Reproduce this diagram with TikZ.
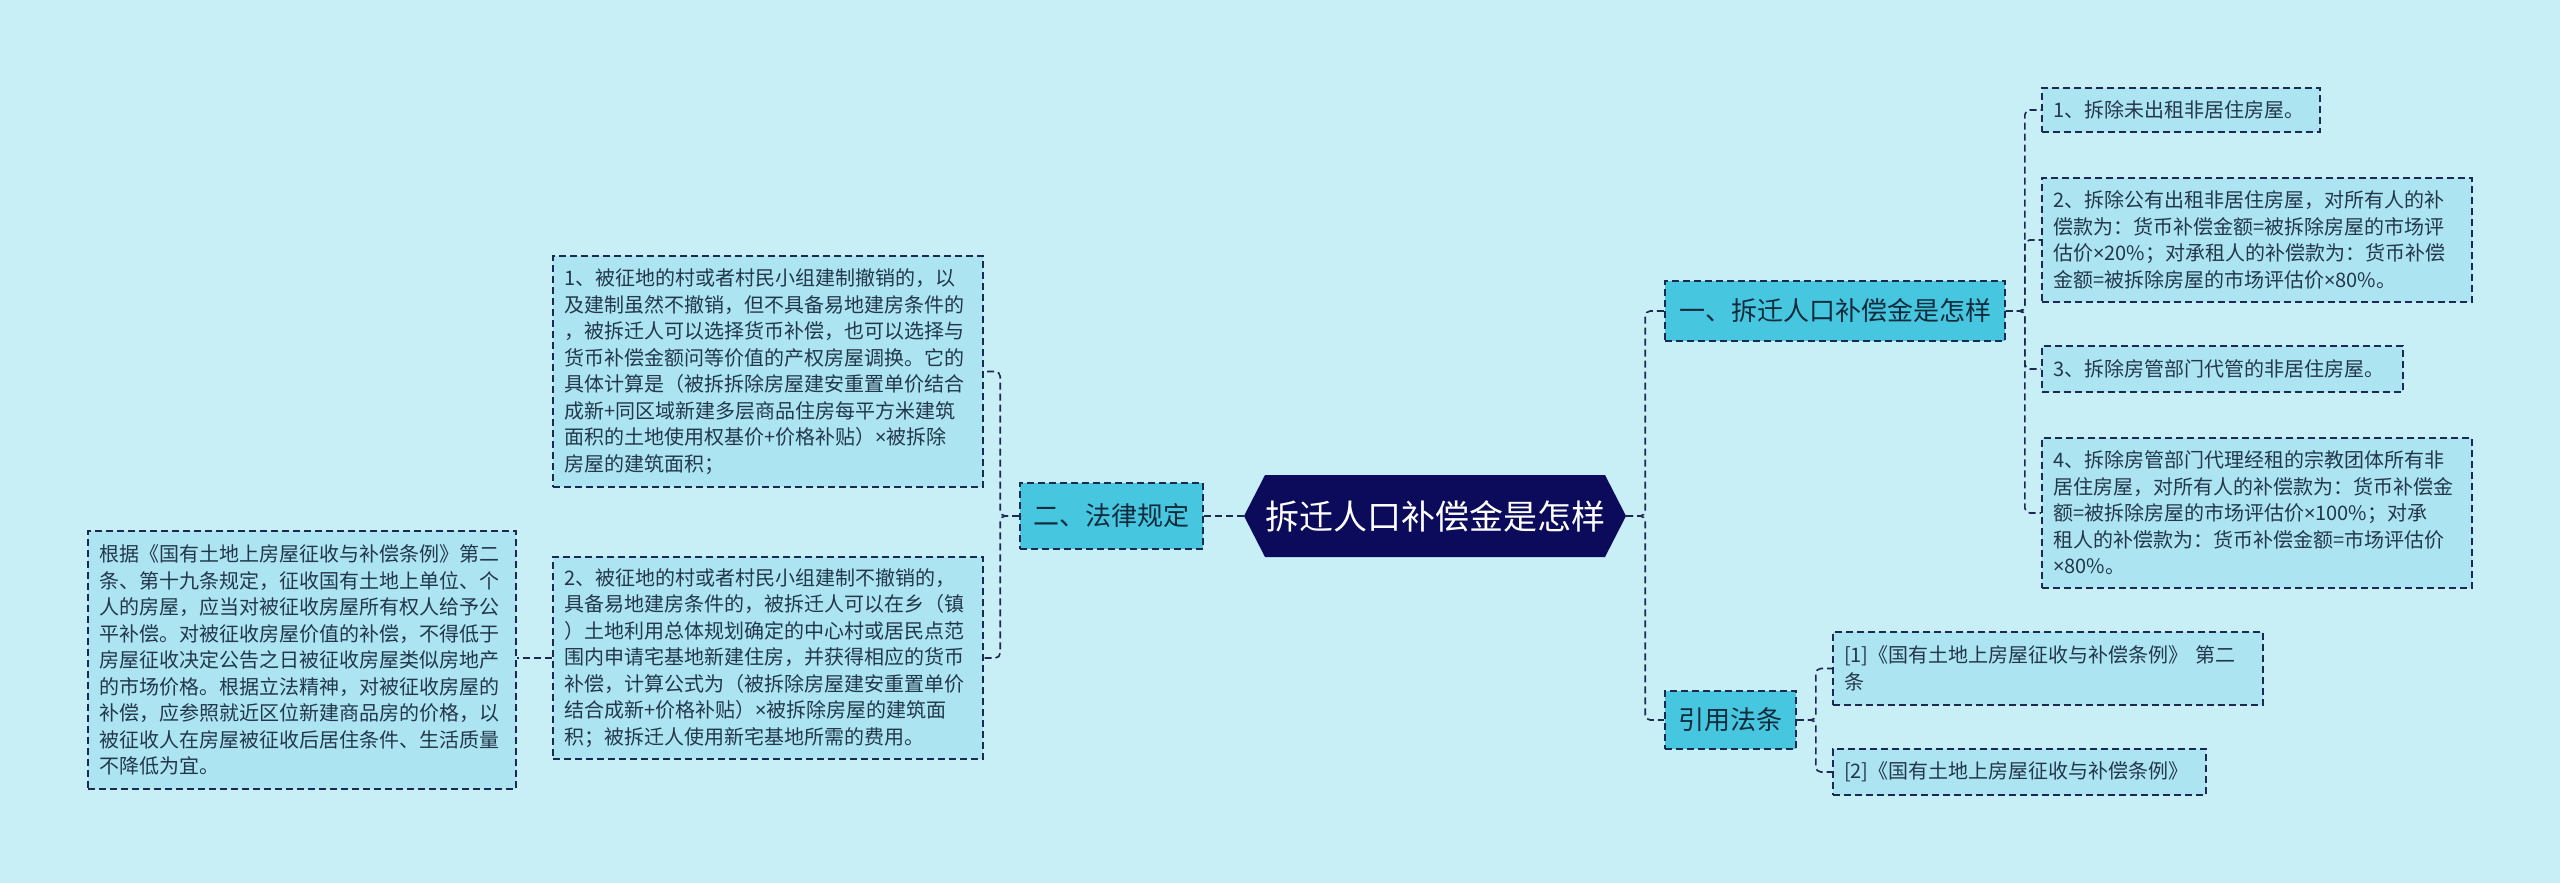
\documentclass[tikz,border=0pt]{standalone}
\usepackage{fontspec}
\newfontfamily\cjk{Noto Sans CJK SC}
\newfontfamily\lat{Noto Sans}
\newcommand{\tms}{{\lat ×}}
\definecolor{bgc}{HTML}{C8EEF6}
\definecolor{leaff}{HTML}{ADE4F1}
\definecolor{midf}{HTML}{47C6E0}
\definecolor{rootf}{HTML}{0C0B5B}
\definecolor{linec}{HTML}{1C2951}
\definecolor{leaft}{HTML}{22384A}
\definecolor{midt}{HTML}{0F2B3C}
\begin{document}
\begin{tikzpicture}[x=1pt,y=-1pt,
  dsh/.style={draw=linec, line width=1.6pt, dash pattern=on 7pt off 4pt},
  leaf/.style={dsh, fill=leaff, text=leaft, font=\cjk\fontsize{20}{26.5}\selectfont,
     align=left, inner xsep=11pt, inner ysep=0pt},
  mid/.style={dsh, fill=midf, text=midt, font=\cjk\fontsize{26}{32}\selectfont, inner sep=0pt},
  conn/.style={dsh, rounded corners=5pt}]
\useasboundingbox (0,0) rectangle (2560,883);
\fill[bgc] (0,0) rectangle (2560,883);
% root hexagon
\fill[rootf] (1244,516) -- (1265,475) -- (1605,475) -- (1626,516) -- (1605,557) -- (1265,557) -- cycle;
\node[font=\cjk\fontsize{34}{40}\selectfont, text=white, minimum width=382pt, minimum height=82pt, inner sep=0pt] (root) at (1435,516) {拆迁人口补偿金是怎样};
% level 1
\node[mid, minimum width=183pt, minimum height=66pt] (er) at (1111.5,516) {二、法律规定};
\node[mid, minimum width=340pt, minimum height=60pt] (yi) at (1835,311) {一、拆迁人口补偿金是怎样};
\node[mid, minimum width=131pt, minimum height=58pt] (yy) at (1730.5,720) {引用法条};
% left leaves
\node[leaf, text width=408pt, minimum height=231pt] (b1) at (768,371.5) {1、被征地的村或者村民小组建制撤销的，以\\及建制虽然不撤销，但不具备易地建房条件的\\，被拆迁人可以选择货币补偿，也可以选择与\\货币补偿金额问等价值的产权房屋调换。它的\\具体计算是（被拆拆除房屋建安重置单价结合\\成新+同区域新建多层商品住房每平方米建筑\\面积的土地使用权基价+价格补贴）\tms 被拆除\\房屋的建筑面积；};
\node[leaf, text width=408pt, minimum height=202pt] (b2) at (768,658) {2、被征地的村或者村民小组建制不撤销的，\\具备易地建房条件的，被拆迁人可以在乡（镇\\）土地利用总体规划确定的中心村或居民点范\\围内申请宅基地新建住房，并获得相应的货币\\补偿，计算公式为（被拆除房屋建安重置单价\\结合成新+价格补贴）\tms 被拆除房屋的建筑面\\积；被拆迁人使用新宅基地所需的费用。};
\node[leaf, text width=406pt, minimum height=258pt] (b3) at (302,660) {根据《国有土地上房屋征收与补偿条例》第二\\条、第十九条规定，征收国有土地上单位、个\\人的房屋，应当对被征收房屋所有权人给予公\\平补偿。对被征收房屋价值的补偿，不得低于\\房屋征收决定公告之日被征收房屋类似房地产\\的市场价格。根据立法精神，对被征收房屋的\\补偿，应参照就近区位新建商品房的价格，以\\被征收人在房屋被征收后居住条件、生活质量\\不降低为宜。};
% right leaves
\node[leaf, text width=256pt, minimum height=44pt] (r1) at (2181,110) {1、拆除未出租非居住房屋。};
\node[leaf, text width=408pt, minimum height=124pt] (r2) at (2257,240) {2、拆除公有出租非居住房屋，对所有人的补\\偿款为：货币补偿金额=被拆除房屋的市场评\\估价\tms 20\%；对承租人的补偿款为：货币补偿\\金额=被拆除房屋的市场评估价\tms 80\%。};
\node[leaf, text width=339pt, minimum height=46pt] (r3) at (2222.5,369) {3、拆除房管部门代管的非居住房屋。};
\node[leaf, text width=408pt, minimum height=150pt] (r4) at (2257,513) {4、拆除房管部门代理经租的宗教团体所有非\\居住房屋，对所有人的补偿款为：货币补偿金\\额=被拆除房屋的市场评估价\tms 100\%；对承\\租人的补偿款为：货币补偿金额=市场评估价\\\tms 80\%。};
\node[leaf, text width=408pt, minimum height=73pt] (c1) at (2048,668.5) {[1]《国有土地上房屋征收与补偿条例》~第二\\条};
\node[leaf, text width=351pt, minimum height=46pt] (c2) at (2019.5,772) {[2]《国有土地上房屋征收与补偿条例》};
% connectors
\draw[conn] (root.west) -- (er.east);
\draw[conn] (er.west) -- ++(-19,0) |- (b1.east);
\draw[conn] (er.west) -- ++(-19,0) |- (b2.east);
\draw[conn] (b2.west) -- (b2.west -| b3.east);
\draw[conn] (root.east) -- ++(19,0) |- (yi.west);
\draw[conn] (root.east) -- ++(19,0) |- (yy.west);
\draw[conn] (yi.east) -- ++(19,0) |- (r1.west);
\draw[conn] (yi.east) -- ++(19,0) |- (r2.west);
\draw[conn] (yi.east) -- ++(19,0) |- (r3.west);
\draw[conn] (yi.east) -- ++(19,0) |- (r4.west);
\draw[conn] (yy.east) -- ++(19,0) |- (c1.west);
\draw[conn] (yy.east) -- ++(19,0) |- (c2.west);
\end{tikzpicture}
\end{document}
